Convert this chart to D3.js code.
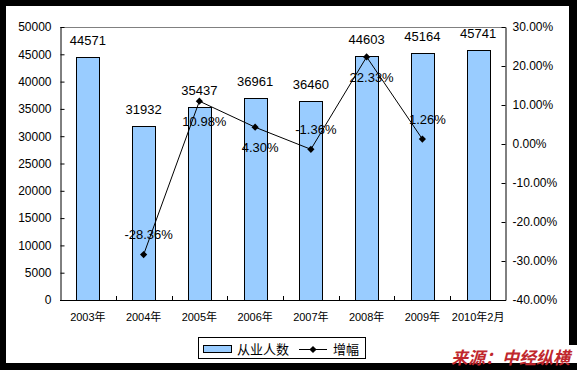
<!DOCTYPE html>
<html>
<head>
<meta charset="utf-8">
<script src="https://cdn.jsdelivr.net/npm/d3@7"></script>
<style>
  html, body { margin: 0; padding: 0; background: #000; }
  svg { display: block; }
  text { font-family: "Liberation Sans", Arial, "Noto Sans CJK SC", sans-serif; }
</style>
</head>
<body>
<svg id="chart" width="577" height="370"></svg>
<script>
// data
const years = ["2003年", "2004年", "2005年", "2006年", "2007年", "2008年", "2009年", "2010年2月"];
const workers = [44571, 31932, 35437, 36961, 36460, 44603, 45164, 45741];
const growth = [null, -0.2836, 0.1098, 0.0430, -0.0136, 0.2233, 0.0126, null];
const growthLabelPos = [null, "above", "below", "below", "above", "below", "above", null];
const leftTicks = d3.range(0, 50001, 5000);
const rightTicks = [-0.4, -0.3, -0.2, -0.1, 0, 0.1, 0.2, 0.3];

const svg = d3.select("#chart");
const plot = {left: 60, right: 506, top: 27, bottom: 300};

// plain hyphen instead of d3's unicode minus
let pct = v => d3.format(".2%")(v).replace("\u2212", "-");

// white card over the black frame
svg.append("rect").attr("x", 6).attr("y", 6).attr("width", 563).attr("height", 357).attr("fill", "#fff");

let x = d3.scaleBand().domain(years).range([plot.left, plot.right]).paddingInner(0.59).paddingOuter(0.295);
let yL = d3.scaleLinear().domain([0, 50000]).range([plot.bottom, plot.top]);
let yR = d3.scaleLinear().domain([-0.4, 0.3]).range([plot.bottom, plot.top]);
let cx = d => x(d) + x.bandwidth() / 2;

// top border of plot area
svg.append("line").attr("x1", plot.left).attr("x2", plot.right).attr("y1", plot.top + 0.5).attr("y2", plot.top + 0.5)
   .attr("stroke", "#808080");

// bars
svg.append("g").selectAll("rect").data(workers).enter().append("rect")
   .attr("x", (d, i) => Math.round(x(years[i])) + 0.5)
   .attr("y", d => Math.round(yL(d)) + 0.5)
   .attr("width", Math.round(x.bandwidth()))
   .attr("height", d => Math.round(yL(0)) - Math.round(yL(d)))
   .attr("fill", "#99ccff").attr("stroke", "#000").attr("stroke-width", 1);

svg.append("g").selectAll("text").data(workers).enter().append("text")
   .attr("x", (d, i) => cx(years[i]))
   .attr("y", d => yL(d) - 12)
   .attr("text-anchor", "middle").attr("font-size", 13).attr("fill", "#000")
   .text(d => d);

// axes
let axL = svg.append("g").attr("transform", `translate(${plot.left + 0.5},0)`)
   .call(d3.axisLeft(yL).tickValues(leftTicks).tickSizeInner(-4).tickSizeOuter(0).tickPadding(9).tickFormat(d3.format("d")));
let axR = svg.append("g").attr("transform", `translate(${plot.right - 0.5},0)`)
   .call(d3.axisRight(yR).tickValues(rightTicks).tickSizeInner(-4).tickSizeOuter(0).tickPadding(7).tickFormat(pct));
[axL, axR].forEach(a => {
    a.selectAll("text").attr("font-size", 12).attr("fill", "#000").attr("font-family", "Liberation Sans, Arial, sans-serif");
    a.selectAll("line, path").attr("stroke", "#000");
});

// x axis line with inside ticks at category borders
let xa = svg.append("g");
xa.append("line").attr("x1", plot.left).attr("x2", plot.right).attr("y1", plot.bottom + 0.5).attr("y2", plot.bottom + 0.5).attr("stroke", "#000");
xa.selectAll("line.tk").data(years.slice(1)).enter().append("line").attr("class", "tk")
   .attr("x1", d => Math.round(x(d) - x.step() * x.paddingInner() / 2) + 0.5)
   .attr("x2", d => Math.round(x(d) - x.step() * x.paddingInner() / 2) + 0.5)
   .attr("y1", plot.bottom - 4).attr("y2", plot.bottom).attr("stroke", "#000");
xa.selectAll("text").data(years).enter().append("text")
   .attr("x", d => cx(d)).attr("y", 321)
   .attr("text-anchor", "middle").attr("font-size", 11).attr("fill", "#000")
   .text(d => d);

// growth line
let pts = growth.map((g, i) => ({g: g, i: i})).filter(p => p.g !== null);
let line = d3.line().x(p => cx(years[p.i])).y(p => yR(p.g));
svg.append("path").datum(pts).attr("d", line).attr("fill", "none").attr("stroke", "#000").attr("stroke-width", 1);
let diamond = d3.symbol().type(d3.symbolSquare).size(26);
svg.append("g").selectAll("path").data(pts).enter().append("path")
   .attr("d", diamond)
   .attr("transform", p => `translate(${cx(years[p.i])},${yR(p.g)}) rotate(45)`)
   .attr("fill", "#000");
svg.append("g").selectAll("text").data(pts).enter().append("text")
   .attr("x", p => cx(years[p.i]) + 5)
   .attr("y", p => yR(p.g) + (growthLabelPos[p.i] === "above" ? -20 : 20))
   .attr("dy", "0.36em")
   .attr("text-anchor", "middle").attr("font-size", 13).attr("fill", "#000")
   .text(p => pct(p.g));

// legend
let lg = svg.append("g");
lg.append("rect").attr("x", 198.5).attr("y", 337.5).attr("width", 167).attr("height", 21)
  .attr("fill", "#fff").attr("stroke", "#000");
lg.append("rect").attr("x", 203.5).attr("y", 345.5).attr("width", 28).attr("height", 7)
  .attr("fill", "#99ccff").attr("stroke", "#000");
lg.append("text").attr("x", 237).attr("y", 353.5).attr("font-size", 13).attr("fill", "#000")
  .attr("font-family", "Noto Sans CJK SC").text("从业人数");
lg.append("line").attr("x1", 299).attr("x2", 327).attr("y1", 349.5).attr("y2", 349.5).attr("stroke", "#000");
lg.append("path").attr("d", diamond).attr("transform", "translate(313,349.5) rotate(45)").attr("fill", "#000");
lg.append("text").attr("x", 333).attr("y", 353.5).attr("font-size", 13).attr("fill", "#000")
  .attr("font-family", "Noto Sans CJK SC").text("增幅");

// source stamp
svg.append("rect").attr("x", 448).attr("y", 345).attr("width", 129).attr("height", 18).attr("fill", "#fff");
svg.append("text").attr("x", 570).attr("y", 364).attr("text-anchor", "end")
   .attr("font-size", 17).attr("font-weight", "bold").attr("font-style", "italic")
   .attr("fill", "#c0272d").attr("font-family", "Noto Sans CJK SC")
   .text("来源：中经纵横");
</script>
</body>
</html>
